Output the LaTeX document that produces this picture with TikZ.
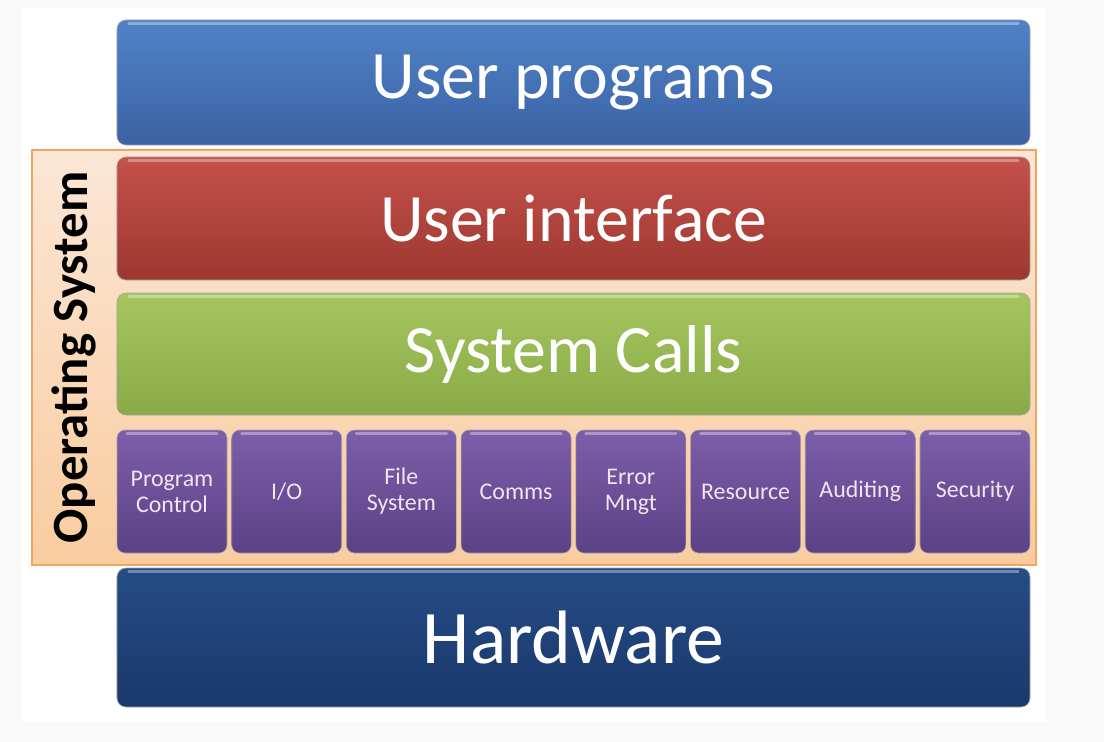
\documentclass[tikz,border=0pt]{standalone}
\usepackage{fontspec}
\setmainfont{Carlito}
\usepackage{xcolor}
\usetikzlibrary{positioning,calc}
\definecolor{pagegray}{HTML}{F9F9F9}
\definecolor{upTop}{HTML}{5082C8}
\definecolor{upBot}{HTML}{3B62A4}
\definecolor{uiTop}{HTML}{C5514A}
\definecolor{uiBot}{HTML}{9C3830}
\definecolor{scTop}{HTML}{A6C55F}
\definecolor{scBot}{HTML}{89AA46}
\definecolor{svTop}{HTML}{7D5EAA}
\definecolor{svBot}{HTML}{5C4185}
\definecolor{hwTop}{HTML}{254C85}
\definecolor{hwBot}{HTML}{1A386B}
\definecolor{osTop}{HTML}{FBE6D6}
\definecolor{osBot}{HTML}{F9CC9F}
\definecolor{osLine}{HTML}{F0A65E}
\tikzset{
  layer/.style={rounded corners=9bp, minimum width=913bp, minimum height=125bp,
                inner sep=0pt, font=\fontsize{68}{70}\selectfont, text=white,
                draw=black!35, line width=0.6bp},
  userprog/.style={layer, top color=upTop, bottom color=upBot},
  userif/.style={layer, top color=uiTop, bottom color=uiBot, minimum height=123bp},
  syscall/.style={layer, top color=scTop, bottom color=scBot, minimum height=122bp},
  hardware/.style={layer, top color=hwTop, bottom color=hwBot, minimum height=139bp,
                   font=\fontsize{76}{78}\selectfont},
  service/.style={rounded corners=8bp, minimum width=110bp, minimum height=123bp,
                  inner sep=0pt, align=center, top color=svTop, bottom color=svBot,
                  draw=black!35, line width=0.6bp, text=white!90!violet,
                  font=\fontsize{24}{26}\selectfont},
  osframe/.style={draw=osLine, line width=1.2bp, top color=osTop, bottom color=osBot,
                  minimum width=1004bp, minimum height=415bp, inner sep=0pt},
  shine/.style={white, opacity=0.35, line width=2.5bp, line cap=round},
}
\begin{document}
\begin{tikzpicture}[x=1bp, y=-1bp]
  \fill[pagegray] (0,0) rectangle (1104,742);
  \fill[white] (22,8) rectangle (1046,722);
  \useasboundingbox (0,0) rectangle (1104,742);

  % operating system frame
  \node[osframe] (os) at (534,357.5) {};
  \node[rotate=90, font=\bfseries\fontsize{51}{53}\selectfont] (oslabel)
    at (74,357.5) {Operating System};

  % layers
  \node[userprog] (up) at (573.5,82.5) {User programs};
  \node[userif] (ui) at (573.5,218.5) {User interface};
  \node[syscall] (sc) at (573.5,354) {System Calls};
  \node[hardware] (hw) at (573.5,637.5) {Hardware};

  % services
  \foreach \lbl [count=\i from 0] in {{Program\\Control},I/O,{File\\System},Comms,
      {Error\\Mngt},Resource,Auditing,Security}
    \node[service] (sv\i) at (172+\i*114.71,491.5) {\lbl};

  % glossy edges
  \foreach \n in {up,ui,sc,hw}
    \draw[shine] ($(\n.north west)+(12,4)$) -- ($(\n.north east)+(-12,4)$);
  \foreach \i in {0,...,7}
    \draw[shine] ($(sv\i.north west)+(10,4)$) -- ($(sv\i.north east)+(-10,4)$);
\end{tikzpicture}
\end{document}
